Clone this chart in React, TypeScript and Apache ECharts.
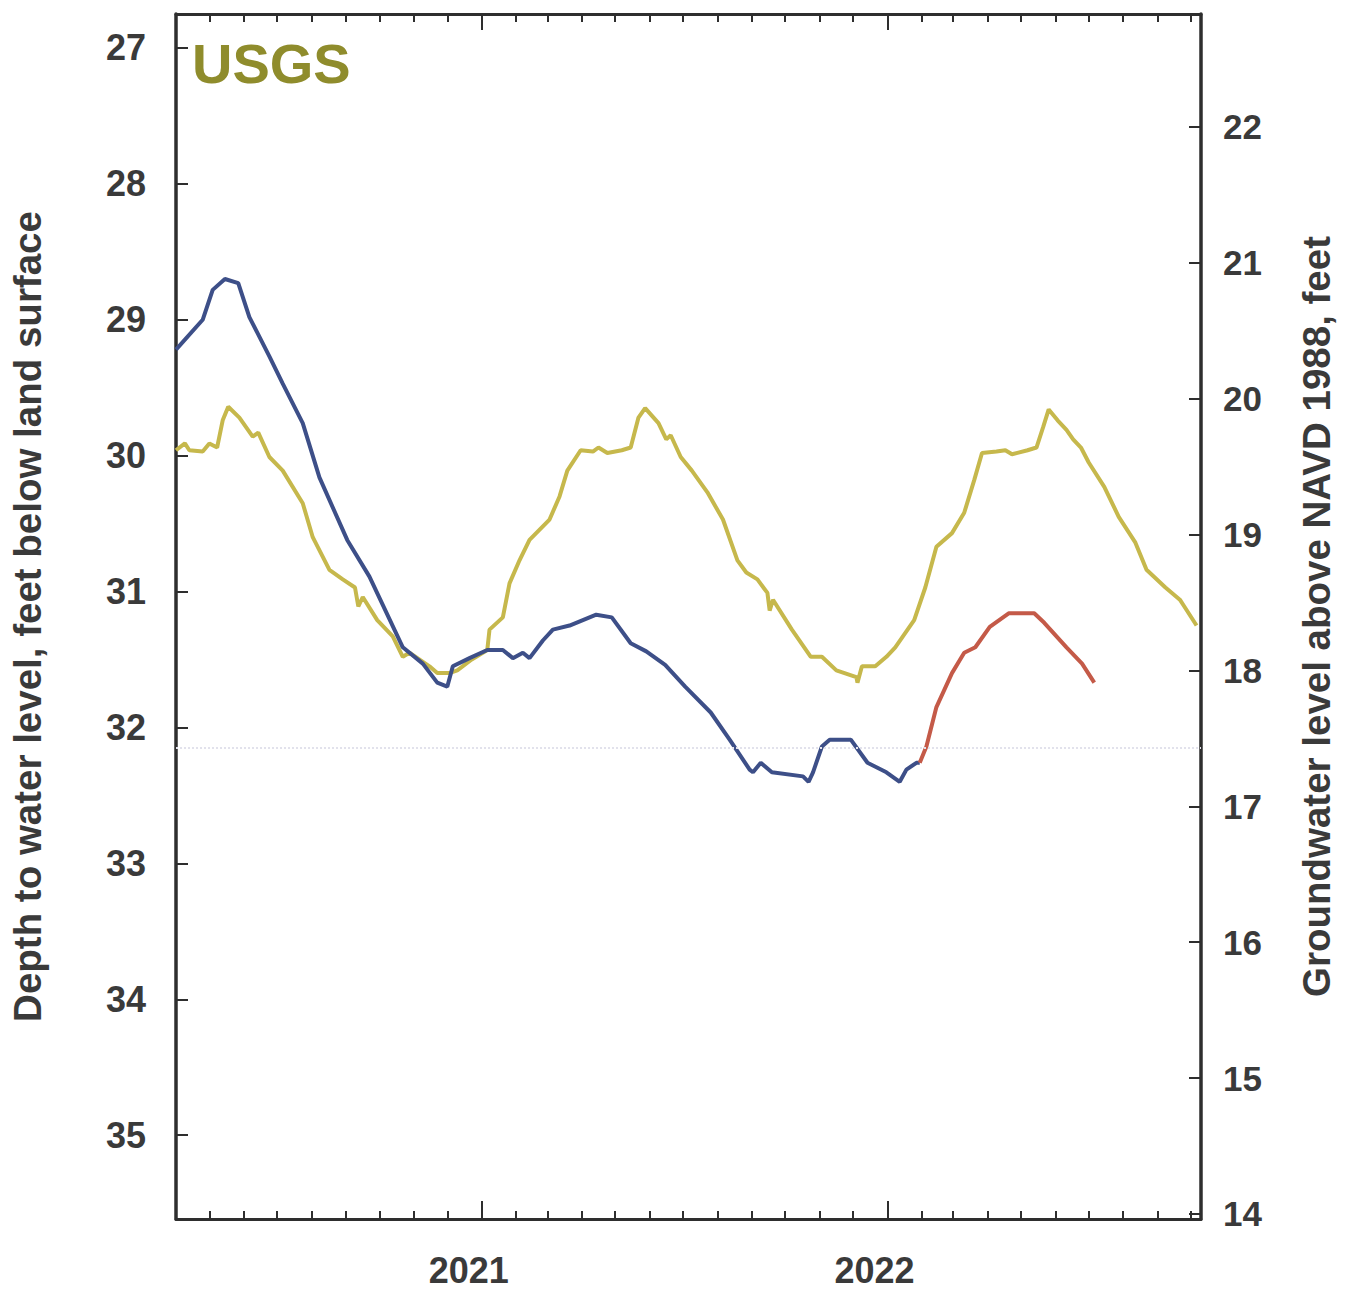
import React, { useEffect, useRef } from "react";
import * as echarts from "echarts";

// ---- Data ----
// Depth to water level (feet below land surface), approved record
const blueDates = [
  "2020-04-01", "2020-04-25", "2020-05-04", "2020-05-15", "2020-05-27", "2020-06-06",
  "2020-06-24", "2020-07-06", "2020-07-24", "2020-08-08", "2020-09-02", "2020-09-22",
  "2020-10-22", "2020-11-09", "2020-11-22", "2020-12-01", "2020-12-06", "2020-12-21",
  "2021-01-06", "2021-01-20", "2021-01-29", "2021-02-07", "2021-02-13", "2021-02-25",
  "2021-03-06", "2021-03-21", "2021-04-14", "2021-04-28", "2021-05-15", "2021-05-29",
  "2021-06-15", "2021-07-03", "2021-07-26", "2021-08-12", "2021-08-30", "2021-09-02",
  "2021-09-09", "2021-09-19", "2021-10-17", "2021-10-22", "2021-10-26", "2021-11-03",
  "2021-11-10", "2021-11-29", "2021-12-14", "2021-12-31", "2022-01-12", "2022-01-18",
  "2022-01-27", "2022-01-30",
];
const blueDepth = [
  29.22, 29.0, 28.78, 28.7, 28.73, 28.98,
  29.27, 29.47, 29.76, 30.16, 30.62, 30.89,
  31.41, 31.53, 31.67, 31.7, 31.55, 31.49,
  31.43, 31.43, 31.49, 31.45, 31.49, 31.36,
  31.28, 31.25, 31.17, 31.19, 31.38, 31.44,
  31.54, 31.7, 31.89, 32.09, 32.31, 32.33,
  32.26, 32.33, 32.36, 32.4, 32.33, 32.14,
  32.09, 32.09, 32.26, 32.33, 32.4, 32.31,
  32.26, 32.26,
];

// Provisional record
const redDates = [
  "2022-01-30", "2022-02-05", "2022-02-14", "2022-02-28", "2022-03-11", "2022-03-21",
  "2022-04-03", "2022-04-20", "2022-05-13", "2022-05-22", "2022-06-11", "2022-06-25",
  "2022-07-06",
];
const redDepth = [
  32.26, 32.14, 31.85, 31.6, 31.45, 31.41,
  31.26, 31.16, 31.16, 31.23, 31.41, 31.53,
  31.67,
];

// Comparison record (yellow)
const yellowDates = [
  "2020-04-01", "2020-04-09", "2020-04-13", "2020-04-25", "2020-05-01", "2020-05-08",
  "2020-05-13", "2020-05-18", "2020-05-28", "2020-06-09", "2020-06-14", "2020-06-24",
  "2020-07-06", "2020-07-24", "2020-08-02", "2020-08-17", "2020-08-29", "2020-09-09",
  "2020-09-12", "2020-09-16", "2020-09-29", "2020-10-13", "2020-10-22", "2020-10-28",
  "2020-11-15", "2020-11-22", "2020-12-03", "2020-12-10", "2020-12-23", "2021-01-06",
  "2021-01-08", "2021-01-20", "2021-01-26", "2021-02-04", "2021-02-13", "2021-03-03",
  "2021-03-12", "2021-03-19", "2021-03-31", "2021-04-11", "2021-04-16", "2021-04-24",
  "2021-05-07", "2021-05-15", "2021-05-22", "2021-05-28", "2021-06-09", "2021-06-16",
  "2021-06-20", "2021-06-29", "2021-07-09", "2021-07-23", "2021-08-06", "2021-08-19",
  "2021-08-27", "2021-09-06", "2021-09-15", "2021-09-17", "2021-09-20", "2021-10-07",
  "2021-10-24", "2021-11-03", "2021-11-16", "2021-12-04", "2021-12-05", "2021-12-09",
  "2021-12-21", "2021-12-31", "2022-01-08", "2022-01-25", "2022-02-04", "2022-02-14",
  "2022-02-28", "2022-03-11", "2022-03-20", "2022-03-27", "2022-04-09", "2022-04-17",
  "2022-04-23", "2022-05-07", "2022-05-15", "2022-05-21", "2022-05-26", "2022-06-03",
  "2022-06-11", "2022-06-17", "2022-06-24", "2022-07-01", "2022-07-15", "2022-07-28",
  "2022-08-12", "2022-08-22", "2022-09-08", "2022-09-21", "2022-09-25", "2022-10-06",
];
const yellowDepth = [
  29.96, 29.91, 29.96, 29.97, 29.91, 29.94,
  29.74, 29.64, 29.72, 29.86, 29.83, 30.01,
  30.11, 30.35, 30.6, 30.84, 30.91, 30.97,
  31.11, 31.04, 31.21, 31.33, 31.48, 31.45,
  31.55, 31.6, 31.6, 31.58, 31.5, 31.43,
  31.28, 31.19, 30.94, 30.77, 30.62, 30.47,
  30.3, 30.11, 29.96, 29.97, 29.94, 29.98,
  29.96, 29.94, 29.72, 29.65, 29.76, 29.88,
  29.85, 30.01, 30.11, 30.27, 30.47, 30.77,
  30.86, 30.91, 31.01, 31.14, 31.06, 31.28,
  31.48, 31.48, 31.58, 31.63, 31.67, 31.55,
  31.55, 31.48, 31.41, 31.21, 30.97, 30.67,
  30.57, 30.42, 30.18, 29.98, 29.97, 29.96,
  29.99, 29.96, 29.94, 29.79, 29.66, 29.74,
  29.81, 29.88, 29.94, 30.05, 30.23, 30.45,
  30.64, 30.84, 30.97, 31.06, 31.11, 31.25,
];

// Axis tick labels
const depthTicks = [27, 28, 29, 30, 31, 32, 33, 34, 35];
const elevationTicks = [14, 15, 16, 17, 18, 19, 20, 21, 22];
const yearTicks = ["2021-01-01", "2022-01-01"];
const xStart = "2020-04-01";
const xEnd = "2022-10-10";
const faintLineDepth = 32.15;

const toTs = (s: string) => {
  const [y, m, d] = s.split("-").map(Number);
  return new Date(y, m - 1, d).getTime();
};

const monthTicks = (() => {
  const out: number[] = [];
  const s = new Date(toTs(xStart));
  const e = toTs(xEnd);
  let y = s.getFullYear();
  let m = s.getMonth();
  while (true) {
    const t = new Date(y, m, 1).getTime();
    if (t > e) break;
    if (m !== 0) out.push(t);
    m++;
    if (m > 11) {
      m = 0;
      y++;
    }
  }
  return out;
})();

const FONT = "'Liberation Sans', Arial, sans-serif";
const AXIS_COLOR = "#2e2e2e";
const TEXT_COLOR = "#3a3a3a";

export default function App() {
  const ref = useRef<HTMLDivElement>(null);

  useEffect(() => {
    if (!ref.current) return;
    const chart = echarts.init(ref.current, undefined, { renderer: "svg" });

    const pairs = (ds: string[], vs: number[]) => ds.map((d, i) => [toTs(d), vs[i]]);
    const min = toTs(xStart);
    const max = toTs(xEnd);
    const years = yearTicks.map(toTs);

    const baseX = {
      type: "value" as const,
      min,
      max,
      scale: true,
      splitLine: { show: false },
    };

    const titleStyle = {
      color: TEXT_COLOR,
      fontFamily: FONT,
      fontWeight: "bold",
      fontSize: 38.5,
    };

    chart.setOption({
      animation: false,
      backgroundColor: "#ffffff",
      grid: {
        left: 176,
        right: 145,
        top: 14,
        bottom: 75,
        containLabel: false,
        outerBoundsMode: "none",
      },
      graphic: [
        {
          type: "text",
          left: 192,
          top: 35,
          style: {
            text: "USGS",
            fill: "#8f8c2c",
            font: `bold 56px ${FONT}`,
          },
        },
      ],
      xAxis: [
        {
          ...baseX,
          position: "bottom",
          axisLine: { show: true, lineStyle: { color: AXIS_COLOR, width: 3 } },
          axisTick: {
            show: true,
            inside: true,
            length: 8,
            customValues: monthTicks,
            lineStyle: { color: AXIS_COLOR, width: 2 },
          },
          axisLabel: { show: false },
        },
        {
          ...baseX,
          position: "bottom",
          axisLine: { show: false },
          axisTick: {
            show: true,
            inside: true,
            length: 18,
            customValues: years,
            lineStyle: { color: AXIS_COLOR, width: 2 },
          },
          axisLabel: {
            show: true,
            customValues: years,
            margin: 33,
            padding: [0, 26, 0, 0],
            color: TEXT_COLOR,
            fontFamily: FONT,
            fontWeight: "bold",
            fontSize: 36,
            formatter: (v: number) => String(new Date(v).getFullYear()),
          },
        },
        {
          ...baseX,
          position: "top",
          axisLine: { show: true, lineStyle: { color: AXIS_COLOR, width: 3 } },
          axisTick: {
            show: true,
            inside: true,
            length: 8,
            customValues: monthTicks,
            lineStyle: { color: AXIS_COLOR, width: 2 },
          },
          axisLabel: { show: false },
        },
        {
          ...baseX,
          position: "top",
          axisLine: { show: false },
          axisTick: {
            show: true,
            inside: true,
            length: 16,
            customValues: years,
            lineStyle: { color: AXIS_COLOR, width: 2 },
          },
          axisLabel: { show: false },
        },
      ],
      yAxis: [
        {
          type: "value",
          position: "left",
          inverse: true,
          min: 26.75,
          max: 35.617,
          name: "Depth to water level, feet below land surface",
          nameLocation: "middle",
          nameRotate: 90,
          nameGap: 129,
          nameTextStyle: titleStyle,
          splitLine: { show: false },
          axisLine: { show: true, lineStyle: { color: AXIS_COLOR, width: 3.5 } },
          axisTick: {
            show: true,
            inside: true,
            length: 12,
            customValues: depthTicks,
            lineStyle: { color: AXIS_COLOR, width: 2 },
          },
          axisLabel: {
            customValues: depthTicks,
            margin: 30,
            color: TEXT_COLOR,
            fontFamily: FONT,
            fontWeight: "bold",
            fontSize: 36,
          },
        },
        {
          type: "value",
          position: "right",
          min: 13.963,
          max: 22.83,
          name: "Groundwater level above NAVD 1988, feet",
          nameLocation: "middle",
          nameRotate: 90,
          nameGap: 96,
          nameTextStyle: titleStyle,
          splitLine: { show: false },
          axisLine: { show: true, lineStyle: { color: AXIS_COLOR, width: 3.5 } },
          axisTick: {
            show: true,
            inside: true,
            length: 12,
            customValues: elevationTicks,
            lineStyle: { color: AXIS_COLOR, width: 2 },
          },
          axisLabel: {
            customValues: elevationTicks,
            margin: 22,
            color: TEXT_COLOR,
            fontFamily: FONT,
            fontWeight: "bold",
            fontSize: 35,
          },
        },
      ],
      series: [
        {
          name: "Comparison record",
          type: "line",
          xAxisIndex: 0,
          yAxisIndex: 0,
          data: pairs(yellowDates, yellowDepth),
          showSymbol: false,
          lineStyle: { color: "#c6b84c", width: 4 },
          z: 2,
        },
        {
          name: "Depth to water level",
          type: "line",
          xAxisIndex: 0,
          yAxisIndex: 0,
          data: pairs(blueDates, blueDepth),
          showSymbol: false,
          lineStyle: { color: "#3d4f88", width: 4 },
          z: 3,
          markLine: {
            silent: true,
            symbol: "none",
            label: { show: false },
            lineStyle: { color: "#e2e2ec", type: "dotted", width: 2 },
            data: [{ yAxis: faintLineDepth }],
          },
        },
        {
          name: "Provisional",
          type: "line",
          xAxisIndex: 0,
          yAxisIndex: 0,
          data: pairs(redDates, redDepth),
          showSymbol: false,
          lineStyle: { color: "#c45a48", width: 4 },
          z: 4,
        },
      ],
    });

    return () => chart.dispose();
  }, []);

  return (
    <div
      ref={ref}
      style={{ position: "absolute", left: 0, top: 0, width: 1346, height: 1294 }}
    />
  );
}
